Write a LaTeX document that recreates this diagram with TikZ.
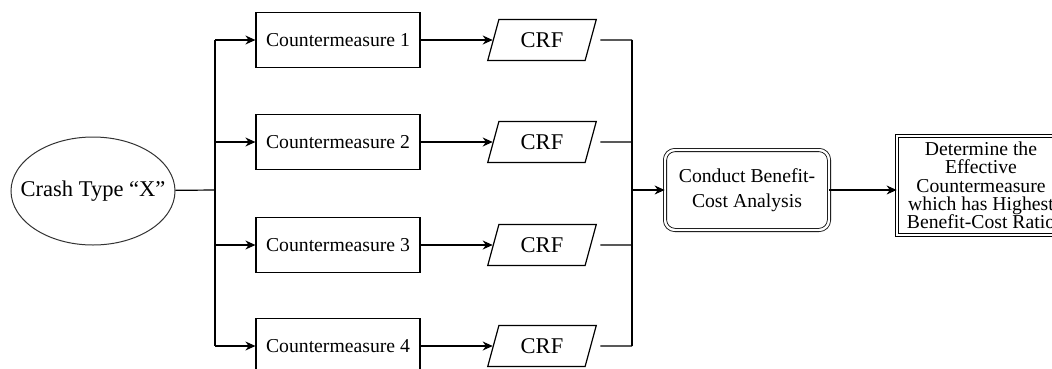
\documentclass[tikz,border=0pt]{standalone}
\usepackage{fontspec}
\setmainfont{Liberation Serif}
\usetikzlibrary{arrows.meta,positioning,shapes,calc}

\begin{document}
\begin{tikzpicture}[x=1pt,y=-1pt,line width=1.2pt,
      every node/.style={font=\fontsize{19.7}{18.3}\selectfont},
      big/.style={font=\fontsize{22.5}{24}\selectfont},
      cmbox/.style={draw,minimum width=164,minimum height=55,inner sep=0pt},
      crfbox/.style={draw,trapezium,trapezium left angle=70,trapezium right angle=110,
        trapezium stretches=true,minimum width=109,minimum height=41,inner sep=0pt,big},
      dbl/.style={draw,double=white,double distance=2.4pt,line width=0.8pt},
      arr/.style={-{Stealth[length=10pt,width=9pt]}}]
    \useasboundingbox (0,0) rectangle (1052,368);
    % Crash type and split
    \node[draw=black!80,line width=1pt,ellipse,minimum width=164,minimum height=108,
      inner xsep=-16pt,inner ysep=0pt,big] (crash) at (93,191) {Crash Type ``X''};
    \coordinate (split) at (215,190);
    \coordinate (join)  at (632,190);
    % Countermeasures and CRFs
    \foreach \i/\y in {1/40,2/142,3/245,4/346}{
      \node[cmbox]  (cm\i)  at (338,\y) {Countermeasure \i};
      \node[crfbox] (crf\i) at (542,\y) {CRF};
      \draw[arr] (split |- cm\i) -- (cm\i);
      \draw[arr] (cm\i) -- (crf\i);
      \draw[shorten <=9pt] (crf\i.east) -- (join |- crf\i);
    }
    \draw (crash) -- (split);
    \draw (split |- cm1) -- (split |- cm4);
    \draw (join |- crf1) -- (join |- crf4);
    % Analysis
    \node[dbl,rounded corners=10pt,minimum width=164,minimum height=80,align=center,
      font=\fontsize{19.7}{25}\selectfont] (cba) at (747,190) {Conduct Benefit-\\Cost Analysis};
    \node[dbl,minimum width=168,minimum height=99,align=center,inner sep=0pt] (best) at (981,185.5)
      {Determine the\\Effective\\Countermeasure\\which has Highest\\Benefit-Cost Ratio};
    \draw[arr] (join) -- (cba);
    \draw[arr] (cba) -- (cba -| best.west);
  \end{tikzpicture}
\end{document}
